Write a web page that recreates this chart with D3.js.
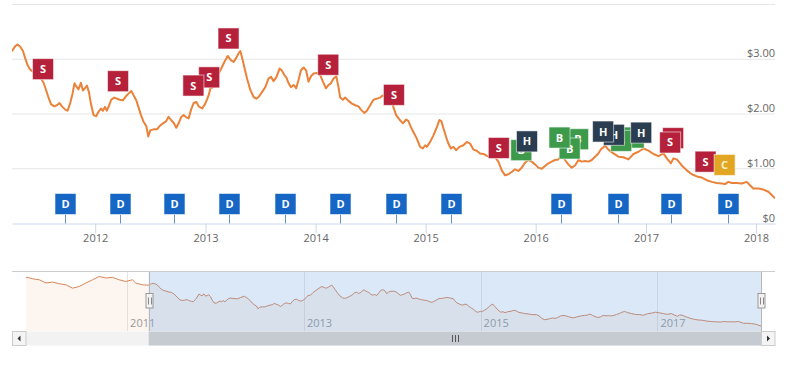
<!DOCTYPE html>
<html>
<head>
<meta charset="utf-8">
<script src="https://cdn.jsdelivr.net/npm/d3@7"></script>
<style>
body { margin: 0; background: #fff; }
svg { display: block; font-family: "Open Sans", sans-serif; }
</style>
</head>
<body>
<svg id="chart" width="788" height="365"></svg>
<script>
// closing price, [decimal year, USD] -- before 2011.24 only shows in the navigator
const prices = [
  [2009.855,3.68],[2009.930,3.57],[2010.006,3.50],[2010.081,3.29],[2010.156,3.35],[2010.232,3.24],
  [2010.307,3.17],[2010.382,2.95],[2010.458,3.06],[2010.533,3.29],[2010.608,3.50],[2010.684,3.72],
  [2010.759,3.62],[2010.834,3.66],[2010.910,3.50],[2010.985,3.39],[2011.060,3.50],[2011.098,3.29],
  [2011.173,3.17],
  [2011.244,3.15],[2011.274,3.24],[2011.295,3.27],[2011.319,3.23],[2011.344,3.15],[2011.365,3.01],
  [2011.386,2.89],[2011.410,2.81],[2011.435,2.77],[2011.464,2.71],[2011.501,2.67],[2011.531,2.57],
  [2011.555,2.43],[2011.576,2.30],[2011.598,2.18],[2011.628,2.14],[2011.652,2.16],[2011.676,2.20],
  [2011.698,2.14],[2011.728,2.08],[2011.749,2.06],[2011.773,2.20],[2011.794,2.37],[2011.812,2.56],
  [2011.834,2.49],[2011.848,2.45],[2011.870,2.57],[2011.888,2.43],[2011.907,2.47],[2011.925,2.52],
  [2011.943,2.40],[2011.961,2.19],[2011.985,1.98],
  [2012.009,1.96],[2012.030,2.04],[2012.052,2.10],[2012.070,2.06],[2012.088,2.13],[2012.106,2.06],
  [2012.127,2.16],[2012.145,2.26],[2012.172,2.30],[2012.197,2.28],[2012.221,2.26],[2012.251,2.25],
  [2012.281,2.33],[2012.311,2.39],[2012.327,2.42],[2012.348,2.34],[2012.372,2.25],[2012.393,2.12],
  [2012.415,1.98],[2012.438,1.86],[2012.463,1.78],[2012.481,1.59],[2012.499,1.70],[2012.529,1.72],
  [2012.560,1.72],[2012.584,1.78],[2012.615,1.83],[2012.644,1.87],[2012.665,1.95],[2012.687,1.89],
  [2012.711,1.84],[2012.735,1.75],[2012.756,1.83],[2012.778,1.94],[2012.801,1.98],[2012.826,1.94],
  [2012.847,1.92],[2012.869,2.08],[2012.892,2.20],[2012.917,2.22],[2012.938,2.14],[2012.969,2.10],
  [2012.998,2.19],
  [2013.028,2.34],[2013.044,2.47],[2013.074,2.49],[2013.105,2.68],[2013.135,2.80],[2013.171,2.95],
  [2013.201,3.06],[2013.232,2.98],[2013.255,2.95],[2013.280,3.03],[2013.301,3.11],[2013.316,3.15],
  [2013.331,3.04],[2013.352,2.86],[2013.377,2.65],[2013.407,2.44],[2013.437,2.31],[2013.461,2.28],
  [2013.482,2.31],[2013.513,2.40],[2013.543,2.49],[2013.573,2.65],[2013.595,2.68],[2013.618,2.60],
  [2013.643,2.67],[2013.673,2.83],[2013.695,2.79],[2013.716,2.71],[2013.734,2.67],[2013.755,2.56],
  [2013.776,2.49],[2013.800,2.53],[2013.824,2.47],[2013.845,2.62],[2013.867,2.80],[2013.891,2.85],
  [2013.915,2.79],[2013.936,2.59],[2013.958,2.69],[2013.982,2.74],
  [2014.012,2.75],[2014.042,2.71],[2014.067,2.59],[2014.094,2.47],[2014.118,2.53],[2014.139,2.56],
  [2014.163,2.65],[2014.188,2.69],[2014.208,2.49],[2014.224,2.30],[2014.248,2.26],[2014.269,2.30],
  [2014.299,2.24],[2014.330,2.19],[2014.360,2.16],[2014.390,2.14],[2014.412,2.08],[2014.442,2.02],
  [2014.466,2.06],[2014.496,2.16],[2014.526,2.26],[2014.557,2.28],[2014.587,2.30],[2014.611,2.34],
  [2014.648,2.31],[2014.693,2.25],[2014.708,2.12],[2014.732,1.98],[2014.762,1.90],[2014.793,1.83],
  [2014.823,1.90],[2014.844,1.87],[2014.866,1.76],[2014.889,1.67],[2014.920,1.55],[2014.950,1.40],
  [2014.975,1.37],[2014.995,1.43],
  [2015.011,1.40],[2015.041,1.49],[2015.071,1.61],[2015.102,1.76],[2015.125,1.89],[2015.143,1.87],
  [2015.162,1.74],[2015.186,1.58],[2015.207,1.46],[2015.229,1.37],[2015.252,1.40],[2015.277,1.34],
  [2015.307,1.40],[2015.343,1.43],[2015.374,1.49],[2015.404,1.46],[2015.434,1.35],[2015.465,1.33],
  [2015.495,1.28],[2015.525,1.27],[2015.561,1.23],[2015.592,1.21],[2015.631,1.21],[2015.661,1.13],
  [2015.692,0.97],[2015.722,0.88],[2015.752,0.90],[2015.782,0.94],[2015.812,0.99],[2015.842,0.96],
  [2015.873,1.02],[2015.903,1.11],[2015.933,1.16],[2015.964,1.13],[2015.994,1.08],
  [2016.024,1.02],[2016.055,1.00],[2016.085,1.05],[2016.115,1.10],[2016.145,1.13],[2016.175,1.16],
  [2016.205,1.17],[2016.236,1.25],[2016.266,1.16],[2016.296,1.08],[2016.327,1.02],[2016.357,1.06],
  [2016.387,1.16],[2016.418,1.13],[2016.448,1.14],[2016.478,1.13],[2016.508,1.16],[2016.538,1.22],
  [2016.568,1.28],[2016.590,1.35],[2016.629,1.42],[2016.659,1.35],[2016.705,1.28],[2016.750,1.22],
  [2016.795,1.21],[2016.841,1.17],[2016.886,1.27],[2016.932,1.31],[2016.977,1.37],
  [2017.022,1.33],[2017.068,1.27],[2017.113,1.23],[2017.158,1.28],[2017.189,1.19],[2017.226,1.10],
  [2017.249,1.19],[2017.280,1.17],[2017.325,1.06],[2017.371,0.97],[2017.416,0.90],[2017.462,0.86],
  [2017.507,0.84],[2017.552,0.79],[2017.598,0.76],[2017.643,0.74],[2017.688,0.73],[2017.718,0.72],
  [2017.748,0.76],[2017.779,0.74],[2017.825,0.74],[2017.870,0.73],[2017.915,0.76],[2017.945,0.70],
  [2017.975,0.64],[2018.021,0.64],[2018.066,0.62],[2018.112,0.58],[2018.142,0.52],[2018.172,0.46]
];

const xTickYears = [2012, 2013, 2014, 2015, 2016, 2017, 2018];
const navTickYears = [2011, 2013, 2015, 2017];
const yTicks = [0, 1, 2, 3, 4];
const viewStart = 2011.244; // left edge of the zoomed range

// event flags: [decimal year, price the flag is pinned to]
const sellFlags = [[2011.526,2.50],[2012.207,2.28],[2012.890,2.20],[2013.033,2.35],[2013.209,3.06],
  [2014.115,2.58],[2014.712,2.03],[2015.665,1.06],[2017.219,1.16],[2017.246,1.24],[2017.541,0.81]];
const buyFlags = [[2015.869,1.02],[2016.216,1.25],[2016.308,1.05],[2016.384,1.22],[2016.775,1.19],[2016.888,1.25]];
const holdFlags = [[2015.921,1.18],[2016.611,1.36],[2016.709,1.30],[2016.956,1.34]];
const coverFlags = [[2017.714,0.75]];
const dividendDates = [2011.728,2012.227,2012.717,2013.210,2013.725,2014.218,2014.729,2015.228,
  2016.227,2016.746,2017.231,2017.748];

function toDate(y) {
  let yr = Math.floor(y);
  let start = new Date(yr, 0, 1), end = new Date(yr + 1, 0, 1);
  return new Date(+start + (y - yr) * (end - start));
}

let data = prices.map(d => ({date: toDate(d[0]), value: d[1]}));
let svg = d3.select("#chart");

let plot = {left: 12, right: 775, top: 4.5, bottom: 223.5};
let nav = {left: 26, right: 761, top: 271.5, bottom: 331};

let x = d3.scaleTime()
  .domain([toDate(viewStart), data[data.length - 1].date])
  .range([plot.left, plot.right]);
let y = d3.scaleLinear().domain([0, 4]).range([plot.bottom, plot.top]);

// grid
svg.append("g").selectAll("line")
  .data(yTicks.slice(1))
  .enter().append("line")
  .attr("x1", plot.left).attr("x2", plot.right)
  .attr("y1", d => y(d)).attr("y2", d => y(d))
  .attr("stroke", "#e6e6e6");

// y labels, on the right inside the plot
svg.append("g").selectAll("text")
  .data(yTicks.filter(d => d < 4))
  .enter().append("text")
  .attr("x", plot.right)
  .attr("y", d => y(d) - 2)
  .attr("text-anchor", "end")
  .attr("font-size", 11)
  .attr("fill", "#666")
  .text(d => d === 0 ? "$0" : d3.format("$.2f")(d));

// x axis
let xAxis = svg.append("g")
  .attr("transform", "translate(0," + plot.bottom + ")")
  .call(d3.axisBottom(x)
    .tickValues(xTickYears.map(v => new Date(v, 0, 1)))
    .tickFormat(d3.timeFormat("%Y"))
    .tickSize(10).tickSizeOuter(0).tickPadding(1));
xAxis.select(".domain").attr("stroke", "#ccd6eb");
xAxis.selectAll(".tick line").attr("stroke", "#ccd6eb");
xAxis.selectAll(".tick text").attr("fill", "#666").attr("font-size", 11)
  .attr("font-family", "'Open Sans', sans-serif");

// price line
svg.append("clipPath").attr("id", "plotClip")
  .append("rect").attr("x", plot.left).attr("y", 0)
  .attr("width", plot.right - plot.left).attr("height", plot.bottom);

let line = d3.line().x(d => x(d.date)).y(d => y(d.value));
svg.append("path")
  .datum(data)
  .attr("clip-path", "url(#plotClip)")
  .attr("fill", "none")
  .attr("stroke", "#ea823a")
  .attr("stroke-width", 2)
  .attr("stroke-linejoin", "round")
  .attr("d", line);

// flags
function valueY(f) { return y(f[1]) - 28; }

function drawFlags(list, color, letter, textColor) {
  // later flags go underneath earlier ones
  let g = svg.append("g").selectAll("g")
    .data(list.slice().reverse())
    .enter().append("g")
    .attr("transform", d => "translate(" + x(toDate(d[0])) + "," + valueY(d) + ")");
  g.append("rect")
    .attr("x", -10.5).attr("y", 0)
    .attr("width", 21).attr("height", 21)
    .attr("fill", color)
    .attr("stroke", "rgba(255,255,255,0.55)");
  g.append("text")
    .attr("y", 14.5)
    .attr("text-anchor", "middle")
    .attr("font-size", 11)
    .attr("font-weight", "bold")
    .attr("fill", textColor)
    .text(letter);
}

drawFlags(sellFlags, "#b5213a", "S", "#fff");
drawFlags(buyFlags, "#3d9a4b", "B", "#fff");
drawFlags(holdFlags, "#2b3d50", "H", "#fff");
drawFlags(coverFlags, "#e2a622", "C", "#fdf1d0");

// dividend flags sit on the x axis
let div = svg.append("g").selectAll("g")
  .data(dividendDates)
  .enter().append("g")
  .attr("transform", d => "translate(" + Math.round(x(toDate(d))) + "," + (plot.bottom - 30) + ")");
div.append("line")
  .attr("x1", 0.5).attr("x2", 0.5).attr("y1", 21).attr("y2", 30)
  .attr("stroke", "#6b94c6");
div.append("rect")
  .attr("x", -10).attr("y", 0)
  .attr("width", 21).attr("height", 21)
  .attr("fill", "#1666c6")
  .attr("stroke", "rgba(255,255,255,0.55)");
div.append("text")
  .attr("x", 0.5).attr("y", 14.5)
  .attr("text-anchor", "middle")
  .attr("font-size", 11)
  .attr("font-weight", "bold")
  .attr("fill", "#fff")
  .text("D");

// ---- navigator ----
let navX = d3.scaleTime()
  .domain(d3.extent(data, d => d.date))
  .range([nav.left, nav.right]);
let ext = d3.extent(data, d => d.value);
let pad = (ext[1] - ext[0]) * 0.1;
let navY = d3.scaleLinear().domain([ext[0] - pad, ext[1] + pad]).range([nav.bottom, nav.top]);

svg.append("g").selectAll("line")
  .data(navTickYears)
  .enter().append("line")
  .attr("x1", d => Math.round(navX(new Date(d, 0, 1))) + 0.5)
  .attr("x2", d => Math.round(navX(new Date(d, 0, 1))) + 0.5)
  .attr("y1", nav.top).attr("y2", nav.bottom)
  .attr("stroke", "#e6e6e6");

svg.append("path")
  .datum(data)
  .attr("fill", "rgba(234,130,58,0.08)")
  .attr("d", d3.area().x(d => navX(d.date)).y0(nav.bottom).y1(d => navY(d.value)));
svg.append("path")
  .datum(data)
  .attr("fill", "none")
  .attr("stroke", "#d9865a")
  .attr("stroke-width", 1)
  .attr("d", d3.line().x(d => navX(d.date)).y(d => navY(d.value)));

svg.append("g").selectAll("text")
  .data(navTickYears)
  .enter().append("text")
  .attr("x", d => navX(new Date(d, 0, 1)) + 3)
  .attr("y", nav.bottom - 4)
  .attr("font-size", 11)
  .attr("fill", "#999")
  .text(d => d);

let zMin = navX(toDate(viewStart));
let zMax = nav.right;

svg.append("rect")
  .attr("x", zMin).attr("y", nav.top)
  .attr("width", zMax - zMin).attr("height", nav.bottom - nav.top)
  .attr("fill", "rgba(102,160,225,0.24)");

svg.append("path")
  .attr("d", "M" + plot.left + "," + nav.top + "H" + plot.right)
  .attr("stroke", "#cccccc").attr("fill", "none");
svg.append("g").selectAll("line")
  .data([zMin, zMax])
  .enter().append("line")
  .attr("x1", d => Math.round(d) + 0.5).attr("x2", d => Math.round(d) + 0.5)
  .attr("y1", nav.top).attr("y2", nav.bottom)
  .attr("stroke", "#b8b8b8");

// handles
let handle = svg.append("g").selectAll("g")
  .data([zMin, zMax])
  .enter().append("g")
  .attr("transform", d => "translate(" + Math.round(d) + ",293.5)");
handle.append("rect")
  .attr("x", -3).attr("y", 0).attr("width", 7).attr("height", 14.5)
  .attr("fill", "#f2f2f2").attr("stroke", "#999");
handle.append("path")
  .attr("d", "M-0.5,4V11M2.5,4V11")
  .attr("stroke", "#888");

// scrollbar
let sb = {top: 331.5, h: 14};
svg.append("rect")
  .attr("x", plot.left).attr("y", sb.top)
  .attr("width", plot.right - plot.left).attr("height", sb.h)
  .attr("fill", "#f2f2f2");
svg.append("rect")
  .attr("x", zMin).attr("y", sb.top)
  .attr("width", zMax - zMin).attr("height", sb.h)
  .attr("fill", "#c5cbd1");
let gx = Math.round((zMin + zMax) / 2);
svg.append("path")
  .attr("d", "M" + (gx - 2.5) + ",335V342M" + (gx + 0.5) + ",335V342M" + (gx + 3.5) + ",335V342")
  .attr("stroke", "#555");

let buttons = svg.append("g").selectAll("g")
  .data([{x: plot.left, dir: -1}, {x: nav.right, dir: 1}])
  .enter().append("g")
  .attr("transform", d => "translate(" + d.x + "," + sb.top + ")");
buttons.append("rect")
  .attr("x", 0.5).attr("y", 0)
  .attr("width", 13.5).attr("height", sb.h)
  .attr("fill", "#f4f4f4").attr("stroke", "#cccccc");
buttons.append("path")
  .attr("d", d => d.dir < 0 ? "M5.5,7L8.5,4V10Z" : "M9,7L6,4V10Z")
  .attr("fill", "#333");
</script>
</body>
</html>
